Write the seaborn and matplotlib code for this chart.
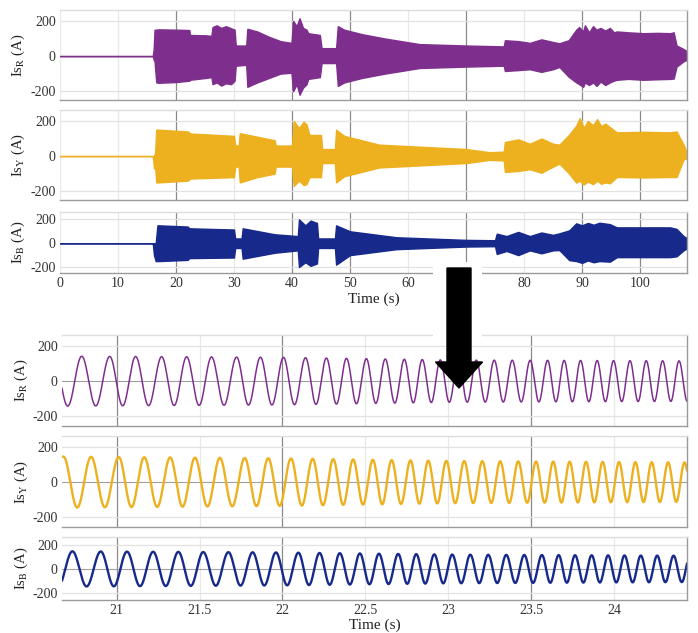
import numpy as np
import pandas as pd
import matplotlib
matplotlib.use("Agg")
import matplotlib.pyplot as plt
from matplotlib.patches import FancyArrow, Rectangle
import seaborn as sns

# ---------------- data ----------------
# Top: envelope of the three phase currents over the full run (time in s, current in A)
env_R_t = [0, 16.0, 16.15, 16.3, 16.6, 17, 20, 22.3, 22.4, 25, 26.1, 26.3, 27, 27.8, 28.6, 29.5, 30.1, 30.3, 32.1, 32.3,
           34, 36, 38, 39.9, 40.2, 40.8, 41.3, 41.9, 42.5, 42.8, 44.8, 45.1, 47.6, 47.9, 49, 52, 56, 62, 70, 76.5,
           76.7, 79, 81, 83, 85, 86.1, 87.7, 89.0, 89.5, 90.2, 90.5, 91.2, 91.9, 92.5, 93.2, 94.0, 94.8, 95.5, 96.0, 98.0,
           100.6, 103.0, 105.2, 105.8, 106.3, 107.5, 108.2]
env_R_hi = [0, 0, 40, 150, 150, 152, 150, 148, 120, 118, 115, 165, 175, 160, 170, 158, 150, 60, 60, 155,
            140, 110, 85, 75, 200, 170, 215, 160, 150, 130, 120, 45, 45, 170, 150, 125, 100, 68, 60, 55,
            90, 85, 75, 95, 80, 73, 90, 150, 165, 140, 175, 135, 170, 150, 160, 145, 160, 135, 140, 135,
            130, 132, 130, 135, 60, 40, 25]
env_R_lo = [0, 0, -20, -30, -150, -152, -148, -140, -135, -125, -120, -160, -150, -168, -155, -160, -140, -55, -50, -175,
            -150, -125, -100, -95, -200, -160, -220, -180, -160, -130, -120, -40, -40, -170, -150, -125, -100, -68, -60, -55,
            -85, -80, -75, -90, -75, -62, -118, -150, -160, -175, -150, -165, -150, -170, -145, -165, -150, -140, -135, -130,
            -135, -132, -130, -128, -60, -30, -20]

env_Y_t = [0, 16.0, 16.2, 16.4, 16.6, 17, 22, 22.5, 30, 30.2, 30.8, 31, 34, 37, 37.2, 40, 40.3, 41.2, 42.0, 42.5,
           43, 45, 45.2, 47.4, 47.6, 49, 55, 70, 74, 76.5, 76.7, 79, 81, 83, 85, 86.1, 87.7, 89.0, 89.6, 90.3,
           91.0, 91.9, 92.6, 93.3, 94.0, 94.8, 96.0, 100.6, 105.2, 106.3, 107.5, 108.2]
env_Y_hi = [0, 0, 0, 20, 150, 150, 140, 128, 115, 60, 60, 130, 110, 90, 60, 60, 200, 160, 195, 180,
            120, 120, 40, 40, 150, 115, 65, 40, 22, 25, 80, 95, 70, 100, 70, 65, 119, 173, 216, 160,
            200, 175, 210, 170, 185, 165, 135, 138, 135, 140, 65, 10]
env_Y_lo = [0, 0, -70, -60, -150, -150, -140, -128, -120, -60, -60, -150, -120, -100, -60, -60, -170, -140, -165, -160,
            -120, -120, -40, -40, -150, -115, -65, -40, -22, -25, -90, -85, -75, -95, -60, -43, -97, -151, -140, -162,
            -145, -160, -140, -158, -150, -155, -119, -122, -119, -120, -20, -10]

env_B_t = [0, 16.0, 16.2, 16.5, 16.8, 17, 22, 22.3, 30, 30.2, 31.3, 31.5, 37, 41, 41.2, 42.3, 43.2, 44.3, 44.5, 47.4,
           47.6, 50, 58, 70, 75, 75.3, 77, 79, 81, 83, 85, 86.1, 87.8, 89.0, 90.0, 91.0, 92.0, 93.0, 94.8, 96.0,
           105.2, 106.3, 107.5, 108.2]
env_B_hi = [0, 0, 0, 0, 150, 150, 140, 125, 115, 40, 40, 125, 75, 60, 200, 150, 190, 170, 40, 40,
            150, 100, 50, 28, 25, 80, 60, 95, 60, 90, 70, 83, 108, 167, 150, 170, 155, 172, 160, 133,
            133, 120, 60, 40]
env_B_lo = [0, 0, -100, -150, -150, -150, -140, -125, -120, -40, -40, -130, -80, -60, -200, -160, -190, -170, -40, -40,
            -180, -100, -50, -28, -25, -90, -65, -100, -60, -85, -60, -58, -142, -150, -165, -145, -160, -150, -155, -117,
            -117, -110, -60, -40]

# Bottom: zoomed window, times of the positive peaks of the R phase and the peak amplitudes
peaks_R = [20.789, 20.958, 21.114, 21.271, 21.422, 21.572, 21.723, 21.867, 22.006, 22.139, 22.265, 22.386,
           22.506, 22.620, 22.735, 22.843, 22.952, 23.060, 23.169, 23.277, 23.386, 23.494, 23.599, 23.699,
           23.798, 23.898, 23.997, 24.096, 24.194, 24.293, 24.392]
amp_t = [20.67, 22.0, 23.0, 24.44]
amp_R = [142, 135, 120, 115]
amp_Y = [145, 135, 120, 112]
amp_B = [145, 135, 118, 108]

top_xticks = [0, 10, 20, 30, 40, 50, 60, 70, 80, 90, 100]
top_dark = [20, 40, 50, 70, 90, 100]
bot_xticks = [21, 21.5, 22, 22.5, 23, 23.5, 24]
bot_dark = [21, 22, 23.5]
yticks = [-200, 0, 200]
phase_names = ["R", "Y", "B"]
colors = {"R": "#7E2F8E", "Y": "#EDB120", "B": "#17298A"}

# ---------------- style ----------------
sns.set_theme(style="white")
plt.rcParams["font.family"] = ["Liberation Serif", "DejaVu Serif"]
plt.rcParams["mathtext.fontset"] = "stix"
plt.rcParams["axes.unicode_minus"] = False

W, H = 698, 633
fig = plt.figure(figsize=(W / 100, H / 100), dpi=100)


def add_ax(x0, x1, y0, y1):
    return fig.add_axes([x0 / W, 1 - y1 / H, (x1 - x0) / W, (y1 - y0) / H])


def style(ax, xlim, ylim, xticks, dark, show_x, zero_line, name):
    ax.set_xlim(xlim)
    ax.set_ylim(ylim)
    ax.set_yticks(yticks)
    ax.set_yticklabels([str(v) for v in yticks])
    ax.set_xticks(xticks)
    ax.set_xticklabels([("%g" % v) for v in xticks] if show_x else [])
    for xv in xticks:
        ax.axvline(xv, color="#8a8a8a" if xv in dark else "#e8e8e8", lw=0.9, zorder=0)
    for yv in yticks:
        if yv == 0:
            if zero_line:
                ax.axhline(0, color="#a0a0a0", lw=0.8, zorder=0.5)
        else:
            ax.axhline(yv, color="#e2e2e2", lw=0.9, zorder=0)
    ax.spines["left"].set_visible(False)
    ax.spines["top"].set_color("#dddddd")
    ax.spines["bottom"].set_color("#9a9a9a")
    ax.spines["right"].set_color("#9a9a9a")
    for s in ax.spines.values():
        s.set_linewidth(1.0)
    ax.tick_params(axis="both", labelsize=10, colors="#333333", length=0, pad=3)
    ax.set_ylabel(r"Is$_{\mathrm{%s}}$ (A)" % name, fontsize=10.5, color="#222222")
    ax.yaxis.set_label_coords(-0.052, 0.5)
    ax.set_xlabel("")


# ---------------- top group: full run ----------------
top_boxes = [(10, 100), (110, 200), (212, 273)]
envs = {"R": (env_R_t, env_R_hi, env_R_lo),
        "Y": (env_Y_t, env_Y_hi, env_Y_lo),
        "B": (env_B_t, env_B_hi, env_B_lo)}
for i, name in enumerate(phase_names):
    y0, y1 = top_boxes[i]
    ax = add_ax(60, 687, y0, y1)
    t, hi, lo = envs[name]
    ax.fill_between(t, lo, hi, color=colors[name], lw=1.0, edgecolor=colors[name], zorder=2)
    style(ax, (0, 108.1), (-250, 262), top_xticks, top_dark, i == 2, False, name)
    if i == 2:
        ax.set_xlabel("Time (s)", fontsize=11, color="#222222", labelpad=2)

# ---------------- bottom group: zoom 20.67 s - 24.44 s ----------------
tt = np.linspace(20.67, 24.44, 6000)


def wave(pk, amp):
    pk = np.asarray(pk, float)
    pk = np.concatenate([[pk[0] - (pk[1] - pk[0])], pk, [pk[-1] + (pk[-1] - pk[-2])]])
    ph = np.interp(tt, pk, 2 * np.pi * np.arange(len(pk)))
    return np.interp(tt, amp_t, amp) * np.cos(ph)


pkR = np.asarray(peaks_R)
per = np.gradient(pkR)
peaks = {"R": pkR, "Y": pkR + per / 3.0, "B": pkR - per / 3.0}
amps = {"R": amp_R, "Y": amp_Y, "B": amp_B}
lws = {"R": 1.1, "Y": 1.7, "B": 1.7}
bot_boxes = [(335, 426), (436, 527), (537, 600)]
for i, name in enumerate(phase_names):
    y0, y1 = bot_boxes[i]
    ax = add_ax(62, 687, y0, y1)
    df = pd.DataFrame({"t": tt, "I": wave(peaks[name], amps[name])})
    sns.lineplot(data=df, x="t", y="I", ax=ax, color=colors[name], lw=lws[name], zorder=2,
                 estimator=None, sort=False)
    style(ax, (20.67, 24.44), (-255, 262), bot_xticks, bot_dark, i == 2, True, name)
    if i == 2:
        ax.set_xlabel("Time (s)", fontsize=11, color="#222222", labelpad=1)

# ---------------- arrow linking the two groups ----------------
fig.patches.append(Rectangle((433 / 100, (H - 340) / 100), 49 / 100, 78 / 100,
                             transform=fig.dpi_scale_trans, facecolor="white", edgecolor="none", zorder=5))
fig.patches.append(FancyArrow(459 / 100, (H - 268) / 100, 0, -120 / 100, width=24 / 100,
                              head_width=47 / 100, head_length=26 / 100, length_includes_head=True,
                              transform=fig.dpi_scale_trans, color="black", zorder=6))

fig.savefig("out.png", dpi=100)
